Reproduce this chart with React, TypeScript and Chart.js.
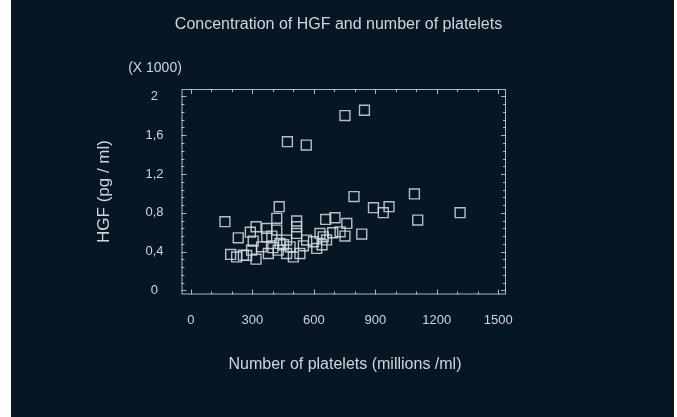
import React, { useEffect, useRef } from "react";
import { Chart, registerables } from "chart.js";

Chart.register(...registerables);

const titleText = "Concentration of HGF and number of platelets";
const xTitle = "Number of platelets (millions /ml)";
const yTitle = "HGF (pg / ml)";
const yUnit = "(X 1000)";

const xTickValues = [0, 300, 600, 900, 1200, 1500];
const yTickValues = [0, 400, 800, 1200, 1600, 2000];

const plateletValues = [
  847, 752, 471, 563, 796, 1091, 891, 967, 939, 1107, 1314, 431, 166, 231, 194, 318, 834,
  703, 658, 761, 516, 419, 692, 752, 500, 318, 378, 304, 370, 516, 435, 549, 614, 646, 256,
  467, 598, 419, 467, 426, 296, 370, 516, 630, 728, 565, 345, 223, 484, 532, 272, 400, 452,
  640, 662, 395, 290,
];
const hgfValues = [
  1858, 1803, 1534, 1499, 967, 995, 853, 863, 801, 725, 801, 863, 708, 542, 370, 656, 580,
  749, 732, 690, 715, 743, 594, 560, 345, 321, 380, 508, 639, 587, 484, 459, 432, 552, 363,
  380, 501, 622, 518, 414, 414, 552, 656, 587, 604, 518, 449, 345, 449, 380, 360, 440, 470,
  470, 520, 560, 600,
];

const BG = "#061624";
const FG = "#d0d5da";
const FONT = "'Liberation Sans', Arial, sans-serif";

const decor = {
  id: "decor",
  beforeDraw(chart: any) {
    const { ctx, width, height } = chart;
    ctx.save();
    ctx.fillStyle = "#ffffff";
    ctx.fillRect(0, 0, width, height);
    ctx.fillStyle = BG;
    ctx.fillRect(11, 0, 663, height);
    ctx.restore();
  },
  afterDraw(chart: any) {
    const { ctx, chartArea: a, scales } = chart;
    const xs = scales.x;
    const ys = scales.y;
    ctx.save();
    ctx.strokeStyle = "rgba(205,210,215,0.85)";
    ctx.lineWidth = 1;
    ctx.strokeRect(a.left + 0.5, a.top + 0.5, a.right - a.left - 1, a.bottom - a.top - 1);
    ctx.beginPath();
    for (let v = 0; v <= 1500; v += 100) {
      const px = Math.round(xs.getPixelForValue(v)) + 0.5;
      const len = v % 300 === 0 ? 5 : 3;
      ctx.moveTo(px, a.bottom);
      ctx.lineTo(px, a.bottom - len);
      ctx.moveTo(px, a.top);
      ctx.lineTo(px, a.top + len);
    }
    for (let v = 0; v <= 2000; v += 80) {
      const py = Math.round(ys.getPixelForValue(v)) + 0.5;
      const len = v % 400 === 0 ? 5 : 3;
      ctx.moveTo(a.left, py);
      ctx.lineTo(a.left + len, py);
      ctx.moveTo(a.right, py);
      ctx.lineTo(a.right - len, py);
    }
    ctx.stroke();

    ctx.fillStyle = FG;
    ctx.textAlign = "center";
    ctx.textBaseline = "middle";
    ctx.font = `16px ${FONT}`;
    ctx.fillText(titleText, 338.5, 25);
    ctx.fillText(xTitle, 345, 365);
    ctx.font = `14px ${FONT}`;
    ctx.fillText(yUnit, 155, 68);
    ctx.font = `17px ${FONT}`;
    ctx.translate(104, 191.5);
    ctx.rotate(-Math.PI / 2);
    ctx.fillText(yTitle, 0, 0);
    ctx.restore();
  },
};

export default function App() {
  const ref = useRef<HTMLCanvasElement | null>(null);
  useEffect(() => {
    if (!ref.current) return;
    const chart = new Chart(ref.current, {
      type: "scatter",
      data: {
        datasets: [
          {
            data: plateletValues.map((x, i) => ({ x, y: hgfValues[i] })),
            pointStyle: "rect",
            pointRadius: 7,
            pointBorderWidth: 1.4,
            borderColor: "rgba(215,220,225,0.85)",
            backgroundColor: "rgba(0,0,0,0)",
          },
        ],
      },
      options: {
        responsive: false,
        animation: false,
        devicePixelRatio: 1,
        layout: { padding: { top: 89, right: 171, left: 0, bottom: 0 } },
        plugins: {
          legend: { display: false },
          tooltip: { enabled: false },
          title: { display: false },
        },
        scales: {
          x: {
            type: "linear",
            min: -46,
            max: 1538,
            grid: { display: false },
            border: { display: false },
            afterBuildTicks: (s: any) => {
              s.ticks = xTickValues.map((v) => ({ value: v }));
            },
            afterFit: (s: any) => {
              s.height = 122.5;
            },
            ticks: {
              color: FG,
              padding: 10,
              maxRotation: 0,
              font: { size: 13, family: FONT },
              callback: (v: any) => String(v),
            },
          },
          y: {
            type: "linear",
            min: -43,
            max: 2077,
            grid: { display: false },
            border: { display: false },
            afterBuildTicks: (s: any) => {
              s.ticks = yTickValues.map((v) => ({ value: v }));
            },
            afterFit: (s: any) => {
              s.width = 181.5;
            },
            ticks: {
              color: FG,
              padding: 10,
              crossAlign: "center",
              font: { size: 13, family: FONT },
              callback: (v: any) => (v === 0 ? "0" : String(v / 1000).replace(".", ",")),
            },
          },
        },
      },
      plugins: [decor],
    });
    return () => chart.destroy();
  }, []);
  return (
    <div style={{ position: "fixed", left: 0, top: 0, width: 677, height: 417 }}>
      <canvas ref={ref} width={677} height={417} style={{ display: "block" }} />
    </div>
  );
}
